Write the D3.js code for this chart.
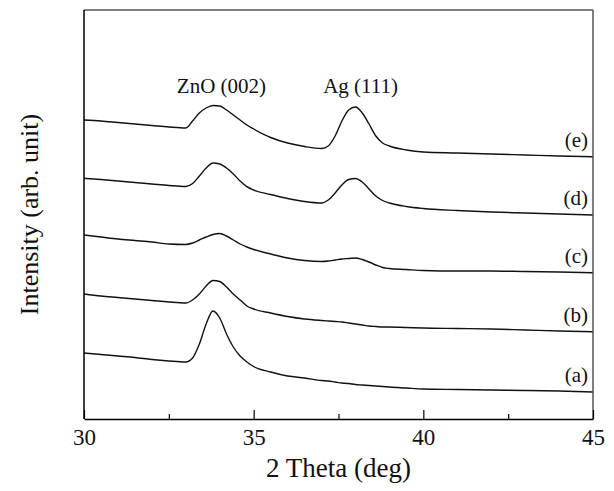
<!DOCTYPE html>
<html>
<head>
<meta charset="utf-8">
<script src="https://cdn.jsdelivr.net/npm/d3@7"></script>
<style>
  body { margin: 0; background: #fff; }
</style>
</head>
<body>
<div id="chart"></div>
<script>
// 2 theta grid (deg)
const twoTheta = [30, 30.5, 31, 31.5, 32, 32.5, 33, 33.2, 33.4, 33.6, 33.8, 34, 34.2, 34.4, 34.6, 34.8,
  35, 35.5, 36, 36.5, 37, 37.2, 37.4, 37.6, 37.8, 38, 38.2, 38.4, 38.6, 38.8, 39, 39.5, 40, 41, 42, 43, 44, 45];

// intensities (arb. unit, stacked with offsets as in the figure)
const seriesA = [66, 64.5, 63, 61.5, 59.5, 58, 57, 61, 75, 95, 108, 101, 85, 72, 63, 57,
  52.5, 47, 43, 41, 38.5, 38, 37, 36, 35.5, 34.5, 34, 33.5, 33, 32.5, 32, 31, 30, 29.5, 29, 28.5, 28, 27];
const seriesB = [125, 123, 121.5, 120, 118.5, 117, 116, 119, 125, 133, 138.5, 137.5, 132, 125, 119, 113,
  110, 106, 102.5, 100, 98.5, 98, 97.5, 97, 96, 95, 94, 93, 92.5, 92, 92, 91.5, 91, 90.5, 90, 89, 88, 87.3];
const seriesC = [184, 182, 180, 178.5, 177, 175, 174.5, 176, 179, 182, 184.5, 185.5, 183, 179, 175, 172,
  169.5, 165, 161, 158.5, 157.5, 158, 159, 160, 160.5, 161, 159.5, 157, 154, 151.5, 150.5, 149.5, 148.5, 148, 148, 147.5, 147, 146.3];
const seriesD = [240.7, 239.5, 238, 236.5, 235, 233.5, 232.5, 235.5, 243, 251, 256, 255, 251, 245, 238, 232.3,
  229, 224.5, 220.5, 217.5, 216, 219, 226, 234, 239.5, 240.5, 237, 230, 223, 218.5, 216, 212.5, 210.5, 208.5, 207, 206, 205, 204];
const seriesE = [299, 298, 296.5, 295, 293.5, 292, 291, 298, 306, 311, 313.5, 313, 309, 304, 299, 294,
  290, 281.5, 276, 272.5, 270.5, 273, 283, 298, 309, 312, 306, 295, 283, 276, 273, 269, 267, 266, 265, 264, 263, 262.3];

const seriesNames = ["(a)", "(b)", "(c)", "(d)", "(e)"];
const peakNames = ["ZnO (002)", "Ag (111)"];
const peakPositions = [34.05, 38.15];
const xTicks = [30, 35, 40, 45];
const xMinorTicks = [32.5, 37.5, 42.5];

const serif = "'Liberation Serif', 'Times New Roman', Times, serif";
const width = 614, height = 491;
const margin = { top: 10, right: 21, bottom: 72, left: 84 };
const w = width - margin.left - margin.right;
const h = height - margin.top - margin.bottom;

const svg = d3.select("#chart").append("svg")
  .attr("width", width)
  .attr("height", height)
  .attr("font-family", serif);
const g = svg.append("g").attr("transform", "translate(" + margin.left + "," + margin.top + ")");

const x = d3.scaleLinear().domain([30, 45]).range([0, w]);
const y = d3.scaleLinear().domain([0, 409]).range([h, 0]);

const allSeries = [seriesA, seriesB, seriesC, seriesD, seriesE];

const line = d3.line()
  .x((d, i) => x(twoTheta[i]))
  .y(d => y(d))
  .curve(d3.curveMonotoneX);

g.selectAll(".xrd")
  .data(allSeries)
  .enter()
  .append("path")
  .attr("class", "xrd")
  .attr("d", line)
  .attr("fill", "none")
  .attr("stroke", "#111")
  .attr("stroke-width", 1.4);

// series labels at the right end
g.selectAll(".series-label")
  .data(allSeries)
  .enter()
  .append("text")
  .attr("class", "series-label")
  .attr("x", w - 5)
  .attr("y", d => y(d[d.length - 1]) - 10)
  .attr("text-anchor", "end")
  .attr("font-family", serif)
  .attr("font-size", 21)
  .attr("fill", "#111")
  .text((d, i) => seriesNames[i]);

// peak labels
g.selectAll(".peak-label")
  .data(peakNames)
  .enter()
  .append("text")
  .attr("class", "peak-label")
  .attr("x", (d, i) => x(peakPositions[i]))
  .attr("y", 83)
  .attr("text-anchor", "middle")
  .attr("font-family", serif)
  .attr("font-size", 21)
  .attr("fill", "#111")
  .text(d => d);

// frame: top/right grey, left/bottom black
g.append("line").attr("x1", 0).attr("x2", w).attr("y1", 0).attr("y2", 0)
  .attr("stroke", "#555").attr("stroke-width", 1.5);
g.append("line").attr("x1", w).attr("x2", w).attr("y1", 0).attr("y2", h)
  .attr("stroke", "#555").attr("stroke-width", 1.5);

// x axis with inward ticks
const xAxis = g.append("g")
  .attr("transform", "translate(0," + h + ")")
  .call(d3.axisBottom(x).tickValues(xTicks).tickSizeInner(-9).tickSizeOuter(0).tickPadding(10).tickFormat(d3.format("d")));
xAxis.attr("font-family", serif);
xAxis.selectAll("text").attr("font-family", serif).attr("font-size", 23).attr("fill", "#111");
xAxis.select(".domain").attr("stroke", "#000").attr("stroke-width", 1.5);
xAxis.selectAll(".tick line").attr("stroke", "#000").attr("stroke-width", 1.2);

g.append("g")
  .attr("transform", "translate(0," + h + ")")
  .call(d3.axisBottom(x).tickValues(xMinorTicks).tickSizeInner(-5).tickSizeOuter(0).tickFormat(""))
  .call(a => a.select(".domain").remove())
  .selectAll(".tick line").attr("stroke", "#000").attr("stroke-width", 1.2);

// y axis, no ticks
g.append("line").attr("x1", 0).attr("x2", 0).attr("y1", 0).attr("y2", h)
  .attr("stroke", "#000").attr("stroke-width", 1.5);

// axis titles
svg.append("text")
  .attr("x", margin.left + w / 2)
  .attr("y", height - 14)
  .attr("text-anchor", "middle")
  .attr("font-family", serif)
  .attr("font-size", 27)
  .attr("fill", "#111")
  .text("2 Theta (deg)");

svg.append("text")
  .attr("transform", "translate(38," + (margin.top + h / 2) + ") rotate(-90)")
  .attr("text-anchor", "middle")
  .attr("font-family", serif)
  .attr("font-size", 26)
  .attr("fill", "#111")
  .text("Intensity (arb. unit)");
</script>
</body>
</html>
